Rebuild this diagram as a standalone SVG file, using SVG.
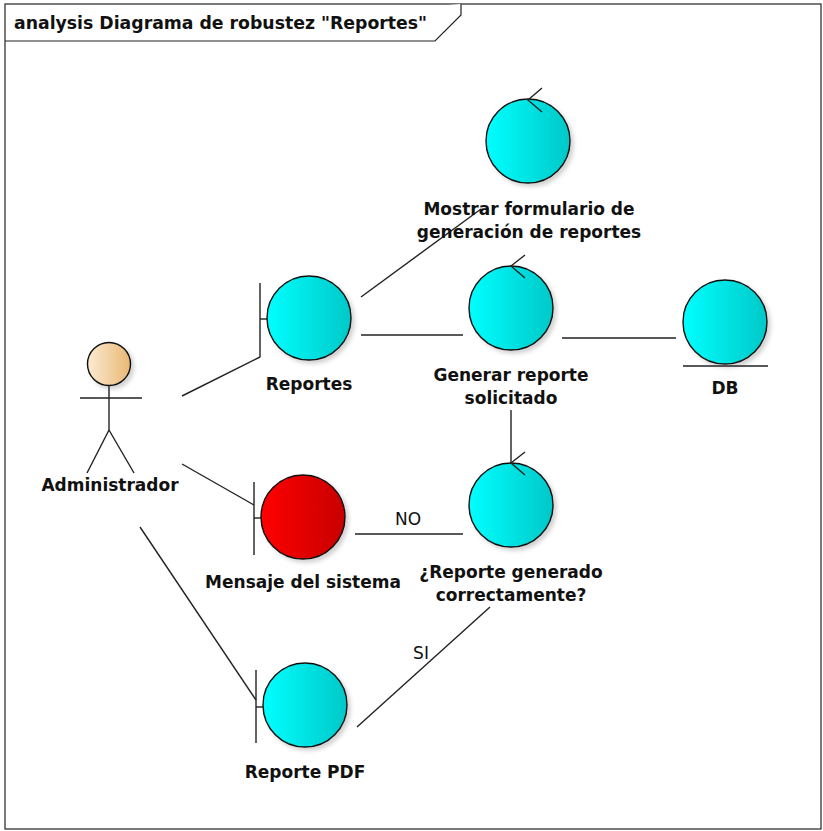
<svg xmlns="http://www.w3.org/2000/svg" width="823" height="831" viewBox="0 0 823 831">
  <defs>
    <linearGradient id="cyanFill" x1="0" y1="0" x2="1" y2="0">
      <stop offset="0" stop-color="#00ffff"/>
      <stop offset="1" stop-color="#00c8c8"/>
    </linearGradient>
    <linearGradient id="redFill" x1="0" y1="0" x2="1" y2="0">
      <stop offset="0" stop-color="#ff0000"/>
      <stop offset="1" stop-color="#c80000"/>
    </linearGradient>
    <linearGradient id="skinFill" x1="0" y1="0" x2="1" y2="0">
      <stop offset="0" stop-color="#fcebd2"/>
      <stop offset="1" stop-color="#e8b874"/>
    </linearGradient>
    <filter id="shadow" x="-20%" y="-20%" width="150%" height="150%">
      <feDropShadow dx="3" dy="3" stdDeviation="2" flood-color="#000" flood-opacity="0.18"/>
    </filter>
  </defs>
  <style>
    .frame { fill: #fff; stroke: #222; stroke-width: 1.2; }
    .edge { stroke: #222; stroke-width: 1.4; fill: none; }
    .shape { stroke: #111; stroke-width: 1.4; }
    .mark { stroke: #222; stroke-width: 1.4; fill: none; }
    .label { font-family: "DejaVu Sans", "Liberation Sans", sans-serif; font-weight: bold; font-size: 17px; fill: #111; text-anchor: middle; }
    .guard { font-family: "DejaVu Sans", "Liberation Sans", sans-serif; font-size: 17px; fill: #111; text-anchor: middle; }
    .title { font-family: "DejaVu Sans", "Liberation Sans", sans-serif; font-weight: bold; font-size: 17.3px; fill: #111; }
  </style>

  <!-- diagram frame -->
  <rect class="frame" x="5" y="4" width="816" height="825"/>
  <path class="frame" d="M5 41 H435 L461 15 V4" fill="none"/>
  <text class="title" x="14" y="29">analysis Diagrama de robustez "Reportes"</text>

  <!-- connectors -->
  <g id="connectors">
    <line class="edge" x1="182" y1="396" x2="260" y2="357"/>
    <line class="edge" x1="182" y1="464" x2="254" y2="505"/>
    <line class="edge" x1="140" y1="527" x2="256" y2="700"/>
    <line class="edge" x1="361" y1="297" x2="481" y2="209"/>
    <line class="edge" x1="361" y1="335" x2="463" y2="335"/>
    <line class="edge" x1="562" y1="338" x2="676" y2="338"/>
    <line class="edge" x1="511" y1="410" x2="511" y2="463"/>
    <line class="edge" x1="355" y1="534" x2="463" y2="534"/>
    <text class="guard" x="408" y="525">NO</text>
    <line class="edge" x1="357" y1="727" x2="490" y2="607"/>
    <text class="guard" x="421" y="659">SI</text>
  </g>

  <!-- actor -->
  <g id="administrador">
    <circle class="shape" cx="109" cy="364" r="21.5" fill="url(#skinFill)" filter="url(#shadow)"/>
    <line class="mark" x1="109" y1="385" x2="109" y2="430"/>
    <line class="mark" x1="80" y1="398" x2="142" y2="398"/>
    <line class="mark" x1="109" y1="430" x2="87" y2="473"/>
    <line class="mark" x1="109" y1="430" x2="134" y2="473"/>
    <text class="label" x="110" y="491">Administrador</text>
  </g>

  <!-- boundary: Reportes -->
  <g id="reportes">
    <line class="mark" x1="260" y1="283" x2="260" y2="357"/>
    <line class="mark" x1="260" y1="319" x2="267" y2="319"/>
    <circle class="shape" cx="309" cy="318" r="42" fill="url(#cyanFill)" filter="url(#shadow)"/>
    <text class="label" x="309" y="390">Reportes</text>
  </g>

  <!-- control: Mostrar formulario -->
  <g id="mostrar-formulario">
    <circle class="shape" cx="528" cy="141" r="42" fill="url(#cyanFill)" filter="url(#shadow)"/>
    <path class="mark" d="M542 88 L528 100 L542 112"/>
    <text class="label" x="529" y="215">Mostrar formulario de</text>
    <text class="label" x="529" y="238">generación de reportes</text>
  </g>

  <!-- control: Generar reporte -->
  <g id="generar-reporte">
    <circle class="shape" cx="511" cy="308" r="42" fill="url(#cyanFill)" filter="url(#shadow)"/>
    <path class="mark" d="M525 255 L511 266 L525 278"/>
    <text class="label" x="511" y="381">Generar reporte</text>
    <text class="label" x="511" y="404">solicitado</text>
  </g>

  <!-- entity: DB -->
  <g id="db">
    <circle class="shape" cx="725" cy="322" r="42" fill="url(#cyanFill)" filter="url(#shadow)"/>
    <line class="mark" x1="683" y1="366" x2="768" y2="366"/>
    <text class="label" x="725" y="394">DB</text>
  </g>

  <!-- boundary: Mensaje del sistema -->
  <g id="mensaje-sistema">
    <line class="mark" x1="254" y1="482" x2="254" y2="555"/>
    <line class="mark" x1="254" y1="518" x2="262" y2="518"/>
    <circle class="shape" cx="303" cy="517" r="42" fill="url(#redFill)" filter="url(#shadow)"/>
    <text class="label" x="303" y="588">Mensaje del sistema</text>
  </g>

  <!-- control: Reporte generado -->
  <g id="reporte-generado">
    <circle class="shape" cx="511" cy="505" r="42" fill="url(#cyanFill)" filter="url(#shadow)"/>
    <path class="mark" d="M525 452 L511 463 L525 475"/>
    <text class="label" x="511" y="578">¿Reporte generado</text>
    <text class="label" x="511" y="601">correctamente?</text>
  </g>

  <!-- boundary: Reporte PDF -->
  <g id="reporte-pdf">
    <line class="mark" x1="256" y1="670" x2="256" y2="743"/>
    <line class="mark" x1="256" y1="707" x2="263" y2="707"/>
    <circle class="shape" cx="305" cy="705" r="42" fill="url(#cyanFill)" filter="url(#shadow)"/>
    <text class="label" x="305" y="778">Reporte PDF</text>
  </g>
</svg>
